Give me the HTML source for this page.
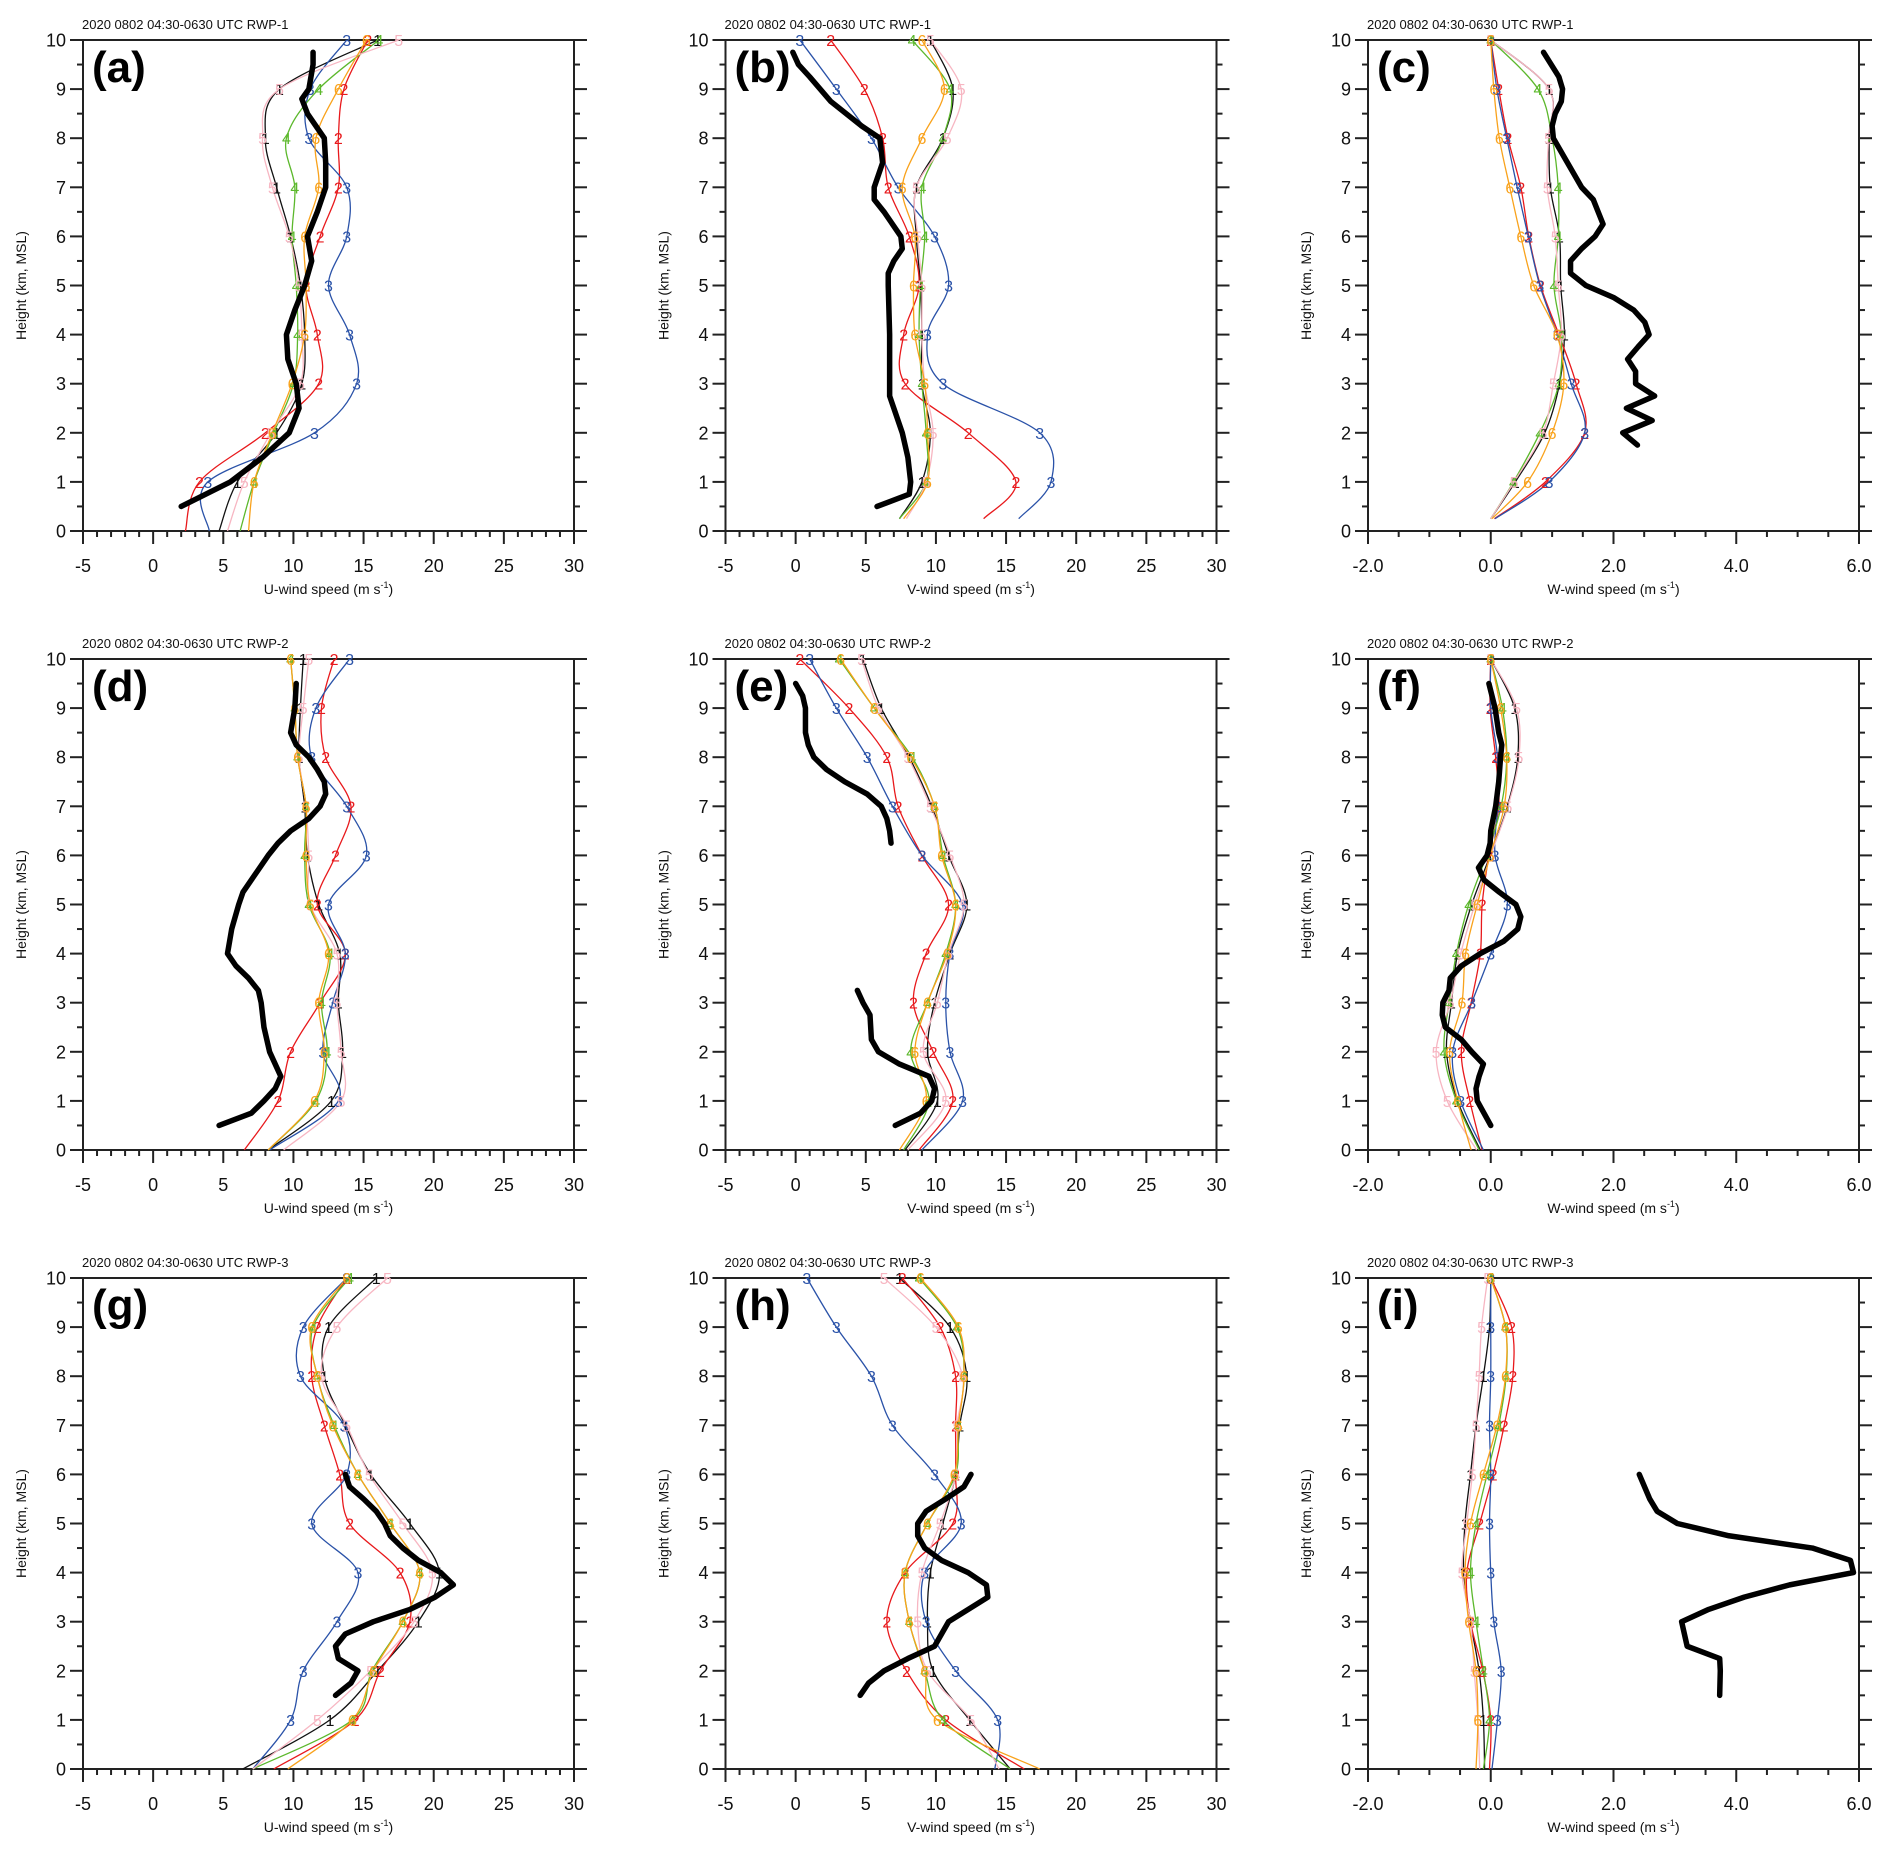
<!DOCTYPE html>
<html><head><meta charset="utf-8">
<style>
html,body{margin:0;padding:0;background:#fff;}
svg{display:block;font-family:"Liberation Sans",Arial,sans-serif;}
</style></head>
<body>
<svg id="fig" width="1892" height="1854" viewBox="0 0 1892 1854" xmlns="http://www.w3.org/2000/svg"></svg>
<script>
// ---------- data (model series order: 1 black,2 red,3 blue,4 green,5 pink,6 orange), heights 0(or start),1..10 km ----------
const seriesIds = ['1','2','3','4','5','6'];
const seriesColors = ['#111111','#e8191c','#2a52a8','#5cb82c','#f7b6c2','#f9a21b'];
const levelsKm = [0,1,2,3,4,5,6,7,8,9,10];
const startKm = [0,0.25,0.25, 0,0,0, 0,0,0];

const aModel = [
 [4.7,6.0,8.8,10.6,10.8,10.5,9.8,8.8,8.0,9.0,16.0],
 [2.3,3.3,8.0,11.8,11.7,10.9,11.9,13.2,13.2,13.6,15.3],
 [4.0,3.9,11.5,14.5,14.0,12.5,13.8,13.8,11.1,11.2,13.8],
 [6.2,7.2,8.6,10.0,10.3,10.2,9.9,10.1,9.5,11.8,16.1],
 [5.3,6.5,8.4,10.5,10.6,10.4,9.7,8.5,7.8,9.0,17.5],
 [6.8,7.2,8.5,9.9,10.8,10.9,10.8,11.8,11.6,13.2,15.2]];
const aObsH = [0.5,1,1.5,2,2.5,3,3.5,4,4.5,5,5.5,6,6.5,7,7.5,8,8.5,8.8,9,9.5,9.75];
const aObsV = [2.0,5.5,7.8,9.7,10.4,10.2,9.6,9.5,10.1,10.8,11.3,11.0,11.7,12.3,12.3,12.2,11.0,10.6,11.1,11.4,11.4];

const bModel = [
 [7.4,9.0,9.6,9.0,9.0,8.9,8.6,8.6,10.5,11.2,9.6],
 [13.4,15.7,12.3,7.8,7.7,8.8,8.1,6.6,6.2,4.9,2.5],
 [15.9,18.2,17.4,10.5,9.4,10.9,9.9,7.3,5.4,2.9,0.3],
 [7.4,9.3,9.3,9.0,8.8,8.9,9.2,9.0,10.5,11.0,8.3],
 [7.9,9.3,9.8,9.2,9.0,9.0,8.7,8.6,10.8,11.8,9.6],
 [7.7,9.4,9.4,9.2,8.5,8.4,8.5,7.6,9.0,10.6,9.0]];
const bObsH = [0.5,0.75,1,1.5,2,2.5,2.75,3,4,5,5.25,5.5,5.75,6,6.5,6.75,7,7.25,7.5,8,8.25,8.75,9.25,9.5,9.75];
const bObsV = [5.8,8.1,8.2,8.0,7.6,7.0,6.7,6.7,6.7,6.6,6.6,7.0,7.6,7.5,6.3,5.6,5.6,5.9,6.2,6.0,4.7,2.5,1.0,0.2,-0.2];

const cModel = [
 [0.0,0.4,0.88,1.12,1.2,1.14,1.12,0.97,0.95,0.95,0.0],
 [0.06,0.89,1.53,1.39,1.11,0.81,0.62,0.49,0.28,0.13,0.0],
 [0.07,0.95,1.53,1.31,1.08,0.8,0.61,0.43,0.26,0.1,0.0],
 [0.0,0.37,0.8,1.11,1.15,1.03,1.1,1.1,1.0,0.77,0.0],
 [0.0,0.38,0.85,1.02,1.15,1.1,1.05,0.92,0.94,0.95,0.0],
 [0.02,0.6,1.0,1.19,1.08,0.7,0.49,0.31,0.14,0.05,0.0]];
const cObsH = [1.75,2,2.25,2.5,2.75,3,3.25,3.5,3.75,4,4.25,4.5,4.75,5,5.25,5.5,5.75,6,6.25,6.5,6.75,7,7.5,8,8.25,8.5,8.75,9,9.25,9.75];
const cObsV = [2.39,2.15,2.63,2.21,2.67,2.36,2.36,2.23,2.4,2.58,2.51,2.33,2.01,1.55,1.3,1.3,1.48,1.7,1.83,1.75,1.67,1.48,1.25,1.02,1.0,1.05,1.15,1.17,1.11,0.86];

const dModel = [
 [8.2,12.7,13.5,13.2,13.3,11.8,11.0,10.8,10.4,10.5,10.7],
 [6.5,8.9,9.8,11.9,13.7,11.7,13.0,14.1,12.3,12.0,12.9],
 [8.3,13.2,12.1,12.8,13.7,12.5,15.2,13.8,11.3,11.6,14.0],
 [8.2,11.6,12.4,12.0,12.6,11.1,10.8,10.9,10.3,10.1,9.8],
 [9.3,13.4,13.4,13.1,13.1,11.2,11.1,10.9,10.4,10.7,11.1],
 [8.2,11.5,12.2,11.8,12.5,11.2,10.9,10.9,10.3,10.1,9.8]];
const dObsH = [0.5,0.75,1,1.25,1.5,1.75,2,2.5,3,3.25,3.5,3.75,4,4.5,5,5.25,5.5,6,6.25,6.5,6.75,7,7.25,7.5,7.75,8,8.25,8.5,9,9.5];
const dObsV = [4.7,7.0,7.9,8.7,9.1,8.7,8.3,7.9,7.7,7.5,6.8,5.9,5.3,5.6,6.1,6.4,7.0,8.2,8.9,9.8,11.1,11.9,12.3,12.2,11.7,11.1,10.2,9.8,10.1,10.2];

const eModel = [
 [7.8,10.1,9.4,9.9,11.0,12.2,10.9,9.7,8.1,6.1,4.8],
 [8.8,11.2,9.8,8.4,9.3,10.9,9.0,7.3,6.5,3.8,0.3],
 [9.0,11.9,11.0,10.7,11.0,11.9,9.0,6.9,5.1,2.9,1.0],
 [7.7,9.5,8.2,9.4,10.7,11.4,10.5,9.9,8.3,5.6,3.1],
 [8.0,10.7,9.1,10.1,10.9,12.0,11.0,9.6,8.0,5.9,4.7],
 [7.4,9.3,8.5,9.4,10.8,11.4,10.4,9.9,8.2,5.6,3.2]];
const eObsH = [0.5,0.75,1,1.25,1.5,1.75,2,2.25,2.75,3,3.25,null,6.25,6.5,6.75,7,7.25,7.5,7.75,8,8.25,8.5,9,9.25,9.5];
const eObsV = [7.1,8.9,9.7,9.9,9.5,7.4,5.9,5.4,5.3,4.8,4.4,null,6.8,6.7,6.5,6.1,5.1,3.5,2.2,1.3,0.9,0.7,0.7,0.5,0.0];

const fModel = [
 [-0.17,-0.54,-0.72,-0.64,-0.54,-0.31,-0.01,0.27,0.44,0.39,0.0],
 [-0.14,-0.34,-0.48,-0.32,-0.17,-0.14,-0.03,0.13,0.08,-0.01,0.0],
 [-0.12,-0.49,-0.62,-0.31,0.0,0.27,0.07,0.11,0.11,0.0,0.0],
 [-0.19,-0.56,-0.76,-0.68,-0.56,-0.36,-0.07,0.17,0.26,0.19,0.0],
 [-0.23,-0.71,-0.89,-0.66,-0.49,-0.26,0.0,0.28,0.46,0.42,0.0],
 [-0.32,-0.54,-0.67,-0.47,-0.41,-0.22,-0.01,0.22,0.26,0.16,0.0]];
const fObsH = [0.5,0.75,1,1.25,1.5,1.75,2,2.25,2.5,2.75,3,3.25,3.5,3.75,4,4.25,4.5,4.75,5,5.25,5.5,5.75,6,6.25,6.5,7,7.5,8,8.25,8.5,9,9.5];
const fObsV = [0.0,-0.11,-0.22,-0.24,-0.19,-0.12,-0.31,-0.48,-0.74,-0.79,-0.78,-0.68,-0.66,-0.48,-0.17,0.21,0.44,0.49,0.41,0.14,-0.11,-0.2,-0.06,-0.01,0.0,0.08,0.13,0.16,0.18,0.13,0.07,-0.03];

const gModel = [
 [6.4,12.6,16.0,18.9,20.4,18.3,15.5,13.7,12.2,12.5,15.9],
 [8.6,14.4,16.2,18.3,17.6,14.0,13.3,12.2,11.3,11.7,13.8],
 [7.1,9.8,10.7,13.1,14.6,11.3,13.8,13.6,10.5,10.7,13.8],
 [7.1,14.2,15.6,17.8,19.0,16.9,14.6,12.9,11.7,11.4,14.0],
 [7.1,11.7,15.5,18.6,19.9,17.8,15.4,13.8,12.0,13.1,16.7],
 [9.6,14.2,15.7,17.8,19.0,16.9,14.6,12.8,11.7,11.3,13.8]];
const gObsH = [1.5,1.75,2,2.25,2.5,2.75,3,3.25,3.5,3.75,4,4.25,4.5,4.75,5,5.25,5.5,5.75,6];
const gObsV = [13.0,14.1,14.6,13.2,13.0,13.7,15.7,18.3,20.1,21.4,20.5,18.9,17.8,16.9,16.5,15.9,15.0,14.0,13.7];

const hModel = [
 [15.3,12.4,9.8,9.4,9.6,10.5,11.4,11.7,12.2,11.0,7.4],
 [16.3,10.7,7.9,6.5,7.8,11.2,11.4,11.4,11.4,10.3,7.6],
 [14.2,14.4,11.4,9.3,9.2,11.8,9.9,6.9,5.4,2.9,0.8],
 [15.3,10.5,9.2,8.1,7.8,9.4,11.4,11.6,12.0,11.5,8.8],
 [14.5,12.5,9.4,8.7,9.0,10.3,11.4,11.5,11.9,10.0,6.3],
 [17.4,10.1,9.2,8.1,7.8,9.4,11.3,11.6,12.0,11.6,8.9]];
const hObsH = [1.5,1.75,2,2.25,2.5,2.75,3,3.25,3.5,3.75,4,4.25,4.5,4.75,5,5.25,5.5,5.75,6];
const hObsV = [4.6,5.2,6.3,8.0,9.9,10.4,10.9,12.3,13.7,13.6,12.3,10.4,9.2,8.7,8.7,9.3,10.7,12.0,12.5];

const iModel = [
 [-0.1,-0.12,-0.19,-0.33,-0.44,-0.42,-0.33,-0.24,-0.12,-0.02,0.0],
 [-0.02,0.0,-0.13,-0.33,-0.39,-0.18,0.04,0.22,0.36,0.34,0.0],
 [0.02,0.11,0.17,0.05,0.0,-0.02,0.0,-0.02,0.0,0.0,0.0],
 [-0.12,-0.02,-0.12,-0.24,-0.33,-0.24,-0.06,0.13,0.25,0.24,0.0],
 [-0.18,-0.21,-0.27,-0.33,-0.47,-0.39,-0.3,-0.24,-0.19,-0.15,-0.05],
 [-0.24,-0.21,-0.24,-0.36,-0.42,-0.33,-0.12,0.1,0.24,0.24,0.0]];
const iObsH = [1.5,2,2.25,2.5,3,3.25,3.5,3.75,4,4.25,4.5,4.75,5,5.25,5.5,6];
const iObsV = [3.73,3.74,3.73,3.2,3.11,3.55,4.13,4.87,5.91,5.86,5.24,3.88,3.04,2.71,2.59,2.42];

const uTickLabels = ['-5','0','5','10','15','20','25','30'];
const wTickLabels = ['-2.0','0.0','2.0','4.0','6.0'];
const yTickLabels = ['0','1','2','3','4','5','6','7','8','9','10'];
const stationNames = ['RWP-1','RWP-2','RWP-3'];

// ---------- drawing ----------
const NS = 'http://www.w3.org/2000/svg';
const svg = document.getElementById('fig');
const colX = [83, 725.5, 1368], rowY = [40, 659, 1278], PW = 491, PH = 491;

function mk(tag, attrs, parent){
  const e = document.createElementNS(NS, tag);
  for (const k in attrs) e.setAttribute(k, attrs[k]);
  parent.appendChild(e);
  return e;
}
function smoothPath(pts){
  if (pts.length < 2) return '';
  let d = 'M' + pts[0][0].toFixed(2) + ',' + pts[0][1].toFixed(2);
  for (let i = 0; i < pts.length - 1; i++){
    const p0 = pts[Math.max(i-1,0)], p1 = pts[i], p2 = pts[i+1], p3 = pts[Math.min(i+2, pts.length-1)];
    const c1x = p1[0] + (p2[0]-p0[0])/6, c1y = p1[1] + (p2[1]-p0[1])/6;
    const c2x = p2[0] - (p3[0]-p1[0])/6, c2y = p2[1] - (p3[1]-p1[1])/6;
    d += ' C' + c1x.toFixed(2)+','+c1y.toFixed(2)+' '+c2x.toFixed(2)+','+c2y.toFixed(2)+' '+p2[0].toFixed(2)+','+p2[1].toFixed(2);
  }
  return d;
}

function drawPanel(idx, letter, kind, model, obsH, obsV){
  const col = idx % 3, row = Math.floor(idx / 3);
  const x0 = colX[col], y0 = rowY[row];
  const isW = kind === 'W';
  const xmin = isW ? -2 : -5, xmax = isW ? 6 : 30;
  const xs = v => x0 + (v - xmin) / (xmax - xmin) * PW;
  const ys = h => y0 + PH - h / 10 * PH;
  const g = mk('g', {}, svg);
  
  

  const t = mk('text', {x: x0 - 1, y: y0 - 11, 'font-size': 13, fill: '#111'}, g);
  t.textContent = '2020 0802 04:30-0630 UTC ' + stationNames[row];
  
  

  const ax = mk('g', {stroke: '#222', 'stroke-width': 2, fill: 'none'}, g);
  
  
  mk('rect', {x: x0, y: y0, width: PW, height: PH}, ax);
  for (let k = 0; k <= 20; k++){
    const yy = y0 + PH - k * PH / 20, len = (k % 2 === 0) ? 13 : 6;
    mk('line', {x1: x0 - len, y1: yy, x2: x0, y2: yy}, ax);
    mk('line', {x1: x0 + PW, y1: yy, x2: x0 + PW + len, y2: yy}, ax);
  }
  const minorStep = isW ? 0.5 : 1, majorStep = isW ? 2 : 5;
  const nMinor = Math.round((xmax - xmin) / minorStep);
  for (let k = 0; k <= nMinor; k++){
    const v = xmin + k * minorStep, xx = xs(v);
    const major = Math.abs((v - xmin) / majorStep - Math.round((v - xmin) / majorStep)) < 1e-6;
    mk('line', {x1: xx, y1: y0 + PH, x2: xx, y2: y0 + PH + (major ? 13 : 6)}, ax);
  }
  yTickLabels.forEach((lab, k) => {
    const tx = mk('text', {x: x0 - 17, y: ys(k) + 6.5, 'font-size': 18, 'text-anchor': 'end', fill: '#111'}, g);
    tx.textContent = lab;
    
    
  });
  const xl = isW ? wTickLabels : uTickLabels;
  xl.forEach((lab, k) => {
    const tx = mk('text', {x: xs(xmin + k * majorStep), y: y0 + PH + 41, 'font-size': 18, 'text-anchor': 'middle', fill: '#111'}, g);
    tx.textContent = lab;
    
    
  });
  const xt = mk('text', {x: x0 + PW / 2, y: y0 + PH + 63, 'font-size': 14, 'text-anchor': 'middle', fill: '#111'}, g);
  
  
  xt.appendChild(document.createTextNode(kind + '-wind speed (m s'));
  const sup = mk('tspan', {'font-size': 9, dy: -6}, xt);
  sup.textContent = '-1';
  const close = mk('tspan', {dy: 6}, xt);
  close.textContent = ')';
  const yt = mk('text', {x: 0, y: 0, 'font-size': 14, 'text-anchor': 'middle', fill: '#111',
    transform: 'translate(' + (x0 - 57) + ',' + (y0 + PH / 2) + ') rotate(-90)'}, g);
  yt.textContent = 'Height (km, MSL)';
  
  

  const pl = mk('text', {x: x0 + 9, y: y0 + 42, 'font-size': 44, 'font-weight': 'bold', fill: '#000'}, g);
  pl.textContent = '(' + letter + ')';
  
  

  const h0 = startKm[idx];
  model.forEach((vals, s) => {
    const pts = vals.map((v, k) => [xs(v), ys(k === 0 ? h0 : levelsKm[k])]);
    const p = mk('path', {d: smoothPath(pts), fill: 'none', stroke: seriesColors[s], 'stroke-width': 1.3}, g);
    
    
  });
  model.forEach((vals, s) => {
    for (let k = 1; k < vals.length; k++){
      const lt = mk('text', {x: xs(vals[k]), y: ys(levelsKm[k]) + 6, 'font-size': 16, 'text-anchor': 'middle', fill: seriesColors[s]}, g);
      lt.textContent = seriesIds[s];
      
      
    }
  });
  let segs = [[]];
  obsH.forEach((h, k) => {
    if (h === null || obsV[k] === null) { segs.push([]); return; }
    segs[segs.length - 1].push(xs(obsV[k]).toFixed(2) + ',' + ys(h).toFixed(2));
  });
  segs.forEach(sg => {
    if (sg.length < 2) return;
    const ol = mk('polyline', {points: sg.join(' '), fill: 'none', stroke: '#000', 'stroke-width': 5.5,
      'stroke-linecap': 'round', 'stroke-linejoin': 'round'}, g);
    
    
  });
}

drawPanel(0, 'a', 'U', aModel, aObsH, aObsV);
drawPanel(1, 'b', 'V', bModel, bObsH, bObsV);
drawPanel(2, 'c', 'W', cModel, cObsH, cObsV);
drawPanel(3, 'd', 'U', dModel, dObsH, dObsV);
drawPanel(4, 'e', 'V', eModel, eObsH, eObsV);
drawPanel(5, 'f', 'W', fModel, fObsH, fObsV);
drawPanel(6, 'g', 'U', gModel, gObsH, gObsV);
drawPanel(7, 'h', 'V', hModel, hObsH, hObsV);
drawPanel(8, 'i', 'W', iModel, iObsH, iObsV);
</script>
</body></html>
